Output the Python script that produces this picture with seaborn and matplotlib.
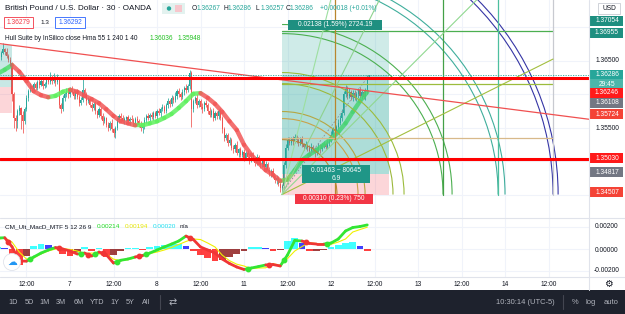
import matplotlib
matplotlib.use("Agg")
import matplotlib.pyplot as plt
from matplotlib.patches import Rectangle, Arc, Circle
from matplotlib.transforms import Affine2D
import numpy as np
import pandas as pd
import seaborn as sns

# ---------------------------------------------------------------- data
# GBPUSD 30 min, bar 0 = Jan 7 00:00, prices kept in pips above BASE
BASE = 1.34
bar_start = -39
first_open = 252
close_pips = [
    256, 262, 268, 264, 258, 252, 246, 200, 165, 160,
    175, 180, 170, 160, 178, 195, 205, 212, 208, 215,
    210, 218, 214, 220, 212, 216, 222, 218, 226, 220,
    224, 218, 222, 185, 178, 195, 200, 205, 200, 208,
    203, 198, 204, 196, 188, 192, 206, 200, 190, 194,
    185, 180, 186, 175, 170, 178, 168, 160, 165, 155,
    150, 158, 148, 142, 150, 162, 168, 165, 160, 163,
    166, 160, 164, 162, 158, 164, 160, 155, 150, 152,
    162, 168, 165, 170, 166, 172, 168, 175, 172, 178,
    182, 176, 185, 190, 186, 195, 192, 198, 205, 200,
    196, 204, 210, 206, 212, 232, 178, 190, 195, 185,
    190, 182, 178, 188, 185, 176, 170, 176, 165, 172,
    168, 175, 165, 148, 135, 140, 128, 132, 120, 118,
    125, 112, 118, 110, 114, 105, 112, 106, 102, 110,
    104, 98, 106, 100, 95, 100, 92, 96, 88, 82,
    86, 78, 72, 75, 66, 60, 64, 95, 120, 132,
    128, 134, 130, 136, 132, 128, 133, 126, 122, 126,
    120, 116, 122, 118, 112, 118, 122, 118, 124, 126,
    122, 128, 132, 140, 148, 145, 152, 158, 165, 172,
    200, 208, 198, 204, 196, 202, 195, 200, 206, 198,
    203, 197, 205, 226.7, 228.6,
]
wick_up = [
    4, 3, 9, 2, 5, 3, 4, 2, 3, 5,
    3, 4, 2, 5, 3, 4, 3, 5, 2, 4,
    3, 4, 5, 3, 6, 2, 4, 3, 8, 3,
    8, 4, 8, 2, 3, 4, 3, 5, 4, 3,
    4, 5, 3, 4, 3, 5, 18, 3, 4, 2,
    3, 4, 3, 5, 2, 4, 3, 5, 3, 2,
    4, 3, 5, 2, 3, 4, 3, 5, 4, 3,
    2, 4, 3, 5, 3, 2, 4, 3, 5, 3,
    4, 3, 5, 2, 4, 3, 4, 3, 5, 3,
    4, 3, 2, 5, 3, 4, 3, 5, 3, 4,
    3, 4, 3, 5, 4, 5, 3, 4, 3, 5,
    3, 4, 5, 3, 4, 3, 5, 2, 4, 3,
    4, 3, 5, 3, 4, 2, 3, 5, 3, 4,
    3, 5, 2, 4, 3, 4, 3, 5, 3, 2,
    4, 3, 5, 3, 2, 4, 3, 5, 3, 4,
    3, 4, 2, 5, 3, 4, 3, 4, 6, 4,
    5, 3, 4, 5, 3, 4, 3, 5, 2, 4,
    3, 4, 5, 3, 4, 3, 5, 4, 3, 4,
    3, 4, 3, 5, 3, 4, 3, 5, 4, 6,
    5, 6, 4, 5, 3, 4, 5, 3, 4, 5,
    3, 4, 5, 3, 0,
]
wick_dn = [
    3, 4, 2, 5, 3, 4, 3, 10, 15, 15,
    10, 5, 22, 17, 4, 3, 5, 2, 4, 3,
    4, 3, 5, 2, 4, 3, 5, 3, 2, 4,
    3, 5, 2, 5, 6, 3, 4, 3, 5, 4,
    3, 5, 4, 3, 5, 4, 3, 4, 5, 3,
    4, 5, 3, 4, 5, 3, 4, 5, 3, 4,
    5, 3, 4, 6, 7, 3, 4, 5, 3, 4,
    3, 4, 5, 3, 4, 3, 5, 4, 5, 7,
    3, 4, 3, 5, 3, 4, 3, 4, 3, 5,
    3, 4, 3, 5, 4, 3, 4, 3, 5, 4,
    4, 3, 5, 4, 3, 4, 26, 4, 3, 5,
    4, 3, 5, 3, 4, 5, 3, 4, 5, 3,
    4, 5, 3, 6, 4, 3, 5, 4, 3, 5,
    4, 3, 5, 3, 4, 5, 3, 4, 5, 3,
    4, 5, 3, 4, 5, 3, 4, 5, 3, 4,
    5, 3, 4, 5, 3, 6, 8, 3, 4, 3,
    4, 3, 5, 3, 4, 5, 3, 4, 5, 3,
    4, 5, 3, 4, 6, 3, 4, 5, 3, 4,
    3, 4, 5, 3, 4, 3, 5, 4, 3, 4,
    3, 4, 5, 3, 4, 5, 3, 4, 5, 3,
    4, 3, 5, 4, 1,
]

# indicator samples every 4 bars, first one at bar -40
ind_start = -40
hull_pips = [
    231, 237, 244, 234, 220, 205, 199, 196, 198, 204,
    207, 204, 198, 193, 187, 178, 168, 160, 157, 154,
    154, 157, 160, 165, 171, 180, 190, 201, 202, 195,
    186, 174, 160, 147, 125, 110, 98, 87, 80, 71,
    73, 87, 102, 110, 117, 125, 134, 144, 157, 174,
    190, 204,
]
# MACD values in units of 1e-4
macd_line = [
    9.8, 10.0, 2.0, -10.7, -10.8, -7.1, -3.6, -0.9, 1.3, 0.0,
    -1.8, -4.4, -3.6, -6.2, -2.7, -5.0, -12.5, -10.0, -8.9, -7.1,
    -5.8, -3.6, -0.9, 1.8, 4.4, 7.1, 11.5, 8.5, 1.8, -0.9,
    -3.6, -8.9, -12.9, -16.0, -18.2, -16.9, -15.6, -14.2, -13.8, -15.1,
    -5.3, 7.6, 7.1, 5.0, 4.4, 4.4, 5.3, 8.9, 16.0, 19.1,
    20.0, 21.4,
]
signal_line = [
    8.5, 9.8, 6.2, -2.7, -8.9, -8.0, -4.4, -1.8, 0.0, 0.4,
    -0.4, -1.8, -4.0, -3.6, -4.4, -4.5, -9.0, -10.5, -9.5, -7.8,
    -5.5, -4.0, -2.7, -0.9, 1.3, 4.0, 6.7, 8.9, 8.4, 5.3,
    1.8, -5.5, -10.4, -13.5, -15.1, -17.5, -16.9, -16.7, -13.0, -14.5,
    -8.5, -1.8, 2.2, 5.6, 4.9, 4.6, 4.2, 6.2, 8.9, 15.1,
    17.3, 19.4,
]
hist_vals = [
    1.5, 1.0, -5, -14.5, -6, 3, 4.4, 3.5, 1.5, -4,
    -6, -3, 1.5, -2, 0.8, -7, -5, -2, 0.8, 1,
    -0.5, 1.5, 2.5, 3.5, 4.4, 4.8, 3, -2, -5, -8,
    -11, -10, -7, -4, -2, 1.5, 1.8, 1, -1.5, -1,
    7, 10, 5, -2, -1.5, -0.5, 2, 4, 5.5, 6,
    3, -1.5,
]

tick_bars = [-24, 0, 24, 48, 72, 96, 120, 144, 168, 192, 216, 240, 264]
tick_labels = ["12:00", "7", "12:00", "8", "12:00", "11", "12:00", "12",
               "12:00", "13", "12:00", "14", "12:00"]

red_levels = [1.36246, 1.35030]
last_price = 1.36286
trend_a = (-33.0, 1.36739)
trend_b = (281.0, 1.35649)

# long positions: (start bar, end bar, entry, target, stop)
left_pos = (-45.0, -32.0, 1.36108, 1.36739, 1.35724)
main_pos = (117.0, 176.0, 1.34817, 1.36955, 1.34507)
pos_now_bar = 165.0

# gann drawing anchored at the low
gann_t0, gann_t1 = 117.0, 266.5
gann_p0, gann_p1 = 1.34507, 1.36955
gann_scale = 0.0002705          # price per bar
gann_arc_r = [30.3, 41.9, 45.8, 61.2, 67.3, 88.8, 93.8, 119.2, 123.0, 149.5, 152.3]
gann_arc_col = ["#b58a35", "#c9a24a", "#b5a642", "#9cb83c", "#9cbc3c",
                "#4caf50", "#4caf50", "#3fae9c", "#3fae9c", "#3535a5", "#3535a5"]
gann_h_levels = [1.36955, 1.36157, 1.35351]
gann_h_col = ["#4caf50", "#9cbc3c", "#d8b98a"]
gann_v_bars = [146.2, 205.8, 236.1, 266.5]
gann_v_col = ["#b8862f", "#43a047", "#4dbf9f", "#c8cad0"]
gann_fan_k = [1.0, 0.5, 2.0, 4.0]
gann_fan_col = ["#90d890", "#a3bf3f", "#8fd28f", "#9ddfa0"]

# ---------------------------------------------------------------- figure
sns.set_theme(style="white")
plt.rcParams["font.family"] = ["Liberation Sans", "DejaVu Sans"]

W, H = 625, 314
fig = plt.figure(figsize=(W / 100, H / 100), dpi=100)
fig.patch.set_facecolor("white")
pix = Affine2D().scale(1 / W, -1 / H).translate(0, 1) + fig.transFigure

PLOT_W = 589
ax = fig.add_axes([0, 1 - 218 / H, PLOT_W / W, 218 / H])
axm = fig.add_axes([0, 1 - 277 / H, PLOT_W / W, 59 / H])

x_lim = (-38.62, 286.34)
for a in (ax, axm):
    a.set_xlim(*x_lim)
    a.set_facecolor("white")
    for s in a.spines.values():
        s.set_visible(False)
    a.set_xticks(tick_bars)
    a.grid(True, color="#f0f3fa", lw=0.8)
    a.tick_params(length=0)
ax.set_ylim(1.341567, 1.374104)
ax.set_yticks(np.arange(1.345, 1.3705, 0.005))
ax.set_xticklabels([])
ax.set_yticklabels([])
axm.set_ylim(-0.002489, 0.002756)
axm.set_yticks([-0.002, 0.0, 0.002])
axm.set_yticklabels([])
axm.set_xticklabels(tick_labels, fontsize=4.8, color="#131722")
axm.tick_params(axis="x", pad=3.2)

# ---------------------------------------------------------------- candles
c = np.array(close_pips, dtype=float)
o = np.r_[first_open, c[:-1]]
t = np.arange(bar_start, bar_start + len(c))
top = np.maximum(o, c)
bot = np.minimum(o, c)
hi = top + np.array(wick_up)
lo = bot - np.array(wick_dn)
up = c >= o
col = np.where(up, "#26a69a", "#ef5350")
ax.vlines(t, BASE + lo / 1e4, BASE + hi / 1e4, colors=col, lw=0.55, zorder=3)
ax.bar(t, np.maximum(top - bot, 0.8) / 1e4, bottom=BASE + bot / 1e4, width=0.62,
       color=col, lw=0, zorder=3)

# ---------------------------------------------------------------- hull band
ti = np.arange(ind_start, ind_start + 4 * len(hull_pips), 4)
hull = BASE + np.array(hull_pips) / 1e4
rows = []
for i in range(len(ti) - 1):
    d = "up" if hull[i + 1] >= hull[i] else "dn"
    rows += [(i, ti[i], hull[i], d), (i, ti[i + 1], hull[i + 1], d)]
hdf = pd.DataFrame(rows, columns=["seg", "t", "v", "dir"])
sns.lineplot(data=hdf, x="t", y="v", hue="dir", units="seg", estimator=None, sort=False,
             palette={"up": "#5ef05e", "dn": "#f25858"}, lw=3.2, alpha=0.85,
             legend=False, ax=ax, zorder=4, solid_capstyle="round")

# ---------------------------------------------------------------- drawings
# left position box
lt0, lt1, le, ltg, ls = left_pos
ax.add_patch(Rectangle((lt0, le), lt1 - lt0, ltg - le, fc="#26a69a", alpha=0.25, lw=0, zorder=5))
ax.add_patch(Rectangle((lt0, ls), lt1 - lt0, le - ls, fc="#f23645", alpha=0.2, lw=0, zorder=5))

# main long position box
pt0, pt1, pe, ptg, ps = main_pos
ax.add_patch(Rectangle((pt0, pe), pt1 - pt0, ptg - pe, fc="#26a69a", alpha=0.22, lw=0, zorder=5))
ax.add_patch(Rectangle((pt0, pe), pt1 - pt0, last_price - pe, fc="#26a69a", alpha=0.2, lw=0, zorder=5))
ax.add_patch(Rectangle((pt0, ps), pt1 - pt0, pe - ps, fc="#f23645", alpha=0.2, lw=0, zorder=5))
ax.plot([pt0, pos_now_bar], [ps + 0.0003, last_price], color="#8a8e99", lw=0.6,
        ls=(0, (2, 2)), zorder=6)

# gann arcs, levels and fan
for r, cc in zip(gann_arc_r, gann_arc_col):
    ax.add_patch(Arc((gann_t0, gann_p0), 2 * r, 2 * r * gann_scale, theta1=0, theta2=90,
                     color=cc, lw=0.8, zorder=6))
for lv, cc in zip(gann_h_levels, gann_h_col):
    ax.plot([gann_t0, gann_t1], [lv, lv], color=cc, lw=0.9, zorder=6)
for vb, cc in zip(gann_v_bars, gann_v_col):
    ax.plot([vb, vb], [gann_p0, 1.3745], color=cc, lw=0.9, zorder=6)
for k, cc in zip(gann_fan_k, gann_fan_col):
    ax.plot([gann_t0, gann_t1], [gann_p0, gann_p0 + k * gann_scale * (gann_t1 - gann_t0)],
            color=cc, lw=0.8, zorder=6)

# trend line and horizontal levels
ax.axline(trend_a, trend_b, color="#f05050", lw=0.9, zorder=7)
for lv in red_levels:
    ax.axhline(lv, color="#ff0000", lw=2.2, zorder=7)
ax.axhline(last_price, color="#26a69a", lw=0.6, ls=(0, (1.5, 1.5)), zorder=7)

# ---------------------------------------------------------------- macd pane
tm = np.arange(ind_start, ind_start + 4 * len(macd_line), 4)
m = np.array(macd_line) / 1e4
s = np.array(signal_line) / 1e4
h = np.array(hist_vals) / 1e4
hcol = []
for i in range(len(h)):
    prev = h[i - 1] if i else h[i]
    if h[i] >= 0:
        hcol.append("#00ffff" if h[i] >= prev else "#0000ff")
    else:
        hcol.append("#ff0000" if h[i] <= prev else "#800000")
axm.bar(tm, h, width=3.6, color=hcol, alpha=0.75, lw=0, zorder=2)
sns.lineplot(x=tm, y=s, color="#f0f000", lw=0.8, ax=axm, zorder=3)
rows = []
for i in range(len(tm) - 1):
    d = "g" if m[i + 1] >= s[i + 1] else "r"
    rows += [(i, tm[i], m[i], d), (i, tm[i + 1], m[i + 1], d)]
mdf = pd.DataFrame(rows, columns=["seg", "t", "v", "dir"])
sns.lineplot(data=mdf, x="t", y="v", hue="dir", units="seg", estimator=None, sort=False,
             palette={"g": "#33e633", "r": "#f03535"}, lw=2.0, legend=False, ax=axm,
             zorder=4, solid_capstyle="round")
state = m >= s
for i in range(1, len(tm)):
    if state[i] != state[i - 1]:
        axm.plot(tm[i - 1] + 2, (m[i - 1] + m[i]) / 2, "o", ms=3.2,
                 color="#33e633" if state[i] else "#f03535", zorder=5)
for a in (ax, axm):
    a.set_xlabel("")
    a.set_ylabel("")

# ---------------------------------------------------------------- frame pieces
def frect(x, y, w, h, **kw):
    fig.patches.append(Rectangle((x, y), w, h, transform=pix, **kw))

def ftext(x, y, s, **kw):
    kw.setdefault("fontsize", 4.8)
    kw.setdefault("va", "center")
    fig.text(x, y, s, transform=pix, **kw)

fig.add_artist(plt.Line2D([PLOT_W, PLOT_W], [0, 290], transform=pix, color="#e0e3eb", lw=0.8))
fig.add_artist(plt.Line2D([0, W], [218, 218], transform=pix, color="#e0e3eb", lw=0.8))
fig.add_artist(plt.Line2D([0, W], [277, 277], transform=pix, color="#e0e3eb", lw=0.8))

# price scale labels
price_tags = [
    ("1.37054", 21, "#1e8f80"), ("1.36955", 33, "#1e8f80"),
    ("1.36286", 75, "#26a69a"), ("29:45", 84, "#4bb6aa"),
    ("1.36246", 93, "#ff1a1a"), ("1.36108", 103, "#737783"),
    ("1.35724", 114, "#f44336"), ("1.35030", 158, "#ff1a1a"),
    ("1.34817", 172, "#737783"), ("1.34507", 192, "#f44336"),
]
for txt, yy, bg in price_tags:
    frect(590, yy - 5, 33, 10, fc=bg, lw=0)
    ftext(607, yy, txt, color="white", ha="center")
for txt, yy in [("1.36500", 61), ("1.35500", 128)]:
    ftext(607, yy, txt, color="#131722", ha="center")
for txt, yy in [("0.00200", 227), ("0.00000", 250), ("-0.00200", 271)]:
    ftext(607, yy, txt, color="#131722", ha="center")
frect(598, 3, 22, 11, fc="white", ec="#c9ccd3", lw=0.6)
ftext(609, 8.5, "USD", color="#131722", ha="center", fontsize=4.8)
ftext(608, 284, "\u2699", color="#131722", ha="center", fontsize=7, family="DejaVu Sans")

# header legend
ftext(5, 8.5, "British Pound / U.S. Dollar \u00b7 30 \u00b7 OANDA", color="#131722", fontsize=5.9)
frect(162, 3, 23, 11, fc="#e3f2ef", lw=0)
fig.patches.append(Circle((169, 8.5), 2.2, transform=pix, fc="#26a69a", lw=0))
frect(175, 5, 7, 7, fc="#f7c6cc", lw=0)
ohlc = [(192, "O", "#131722"), (197, "1.36267", "#26a69a"), (223, "H", "#131722"),
        (228, "1.36286", "#26a69a"), (256, "L", "#131722"), (261, "1.36257", "#26a69a"),
        (286, "C", "#131722"), (290, "1.36286", "#26a69a"),
        (320, "+0.00018 (+0.01%)", "#26a69a")]
for xx, txt, cc in ohlc:
    ftext(xx, 8.5, txt, color=cc, fontsize=4.8)
frect(4, 17, 29, 11, fc="white", ec="#f23645", lw=0.6)
ftext(18.5, 22.5, "1.36279", color="#f23645", ha="center", fontsize=4.8)
ftext(45, 22.5, "1.3", color="#131722", ha="center", fontsize=4.6)
frect(55, 17, 30, 11, fc="white", ec="#2962ff", lw=0.6)
ftext(70, 22.5, "1.36292", color="#2962ff", ha="center", fontsize=4.8)
ftext(5, 39, "Hull Suite by InSilico close Hma 55 1 240 1 40", color="#131722", fontsize=4.7)
ftext(150, 39, "1.36036", color="#22c022", fontsize=4.7)
ftext(178, 39, "1.35948", color="#22c022", fontsize=4.7)

# position labels
frect(288, 20, 94, 10, fc="#1e8f80", lw=0)
ftext(335, 25, "0.02138 (1.59%) 2724.19", color="white", ha="center", fontsize=4.8)
frect(302, 165, 68, 18, fc="#1f9687", lw=0)
ftext(336, 170, "0.01463 ~ 80645", color="white", ha="center", fontsize=4.8)
ftext(336, 178.5, "6.9", color="white", ha="center", fontsize=4.8)
frect(295, 194, 78, 10, fc="#f23645", lw=0)
ftext(334, 199, "0.00310 (0.23%) 750", color="white", ha="center", fontsize=4.8)

# macd legend
ftext(5, 227, "CM_Ult_MacD_MTF 5 12 26 9", color="#131722", fontsize=4.6)
ftext(97, 227, "0.00214", color="#1fdc1f", fontsize=4.6)
ftext(125, 227, "0.00194", color="#e6e600", fontsize=4.6)
ftext(153, 227, "0.00020", color="#1fe0f0", fontsize=4.6)
ftext(180, 227, "n/a", color="#131722", fontsize=4.6)
fig.patches.append(Circle((12, 262), 8.5, transform=pix, fc="white", ec="#e0e3eb", lw=0.6))
ftext(12, 262, "\u2601", color="#2196f3", ha="center", fontsize=7, family="DejaVu Sans")

# bottom toolbar
frect(0, 290, W, 24, fc="#1e222d", lw=0)
for xx, txt in [(13, "1D"), (29, "5D"), (45, "1M"), (61, "3M"), (79, "6M"), (97, "YTD"),
                (115, "1Y"), (130, "5Y"), (146, "All")]:
    ftext(xx, 302, txt, color="#b2b5be", ha="center", fontsize=5.2)
fig.add_artist(plt.Line2D([160, 160], [295, 309], transform=pix, color="#434651", lw=0.8))
ftext(173, 302, "\u21c4", color="#b2b5be", ha="center", fontsize=7, family="DejaVu Sans")
ftext(525, 302, "10:30:14 (UTC-5)", color="#b2b5be", ha="center", fontsize=5.4)
fig.add_artist(plt.Line2D([563, 563], [295, 309], transform=pix, color="#434651", lw=0.8))
ftext(575, 302, "%", color="#b2b5be", ha="center", fontsize=5.4)
ftext(591, 302, "log", color="#b2b5be", ha="center", fontsize=5.4)
ftext(611, 302, "auto", color="#b2b5be", ha="center", fontsize=5.4)

fig.savefig("out.png", dpi=100)
